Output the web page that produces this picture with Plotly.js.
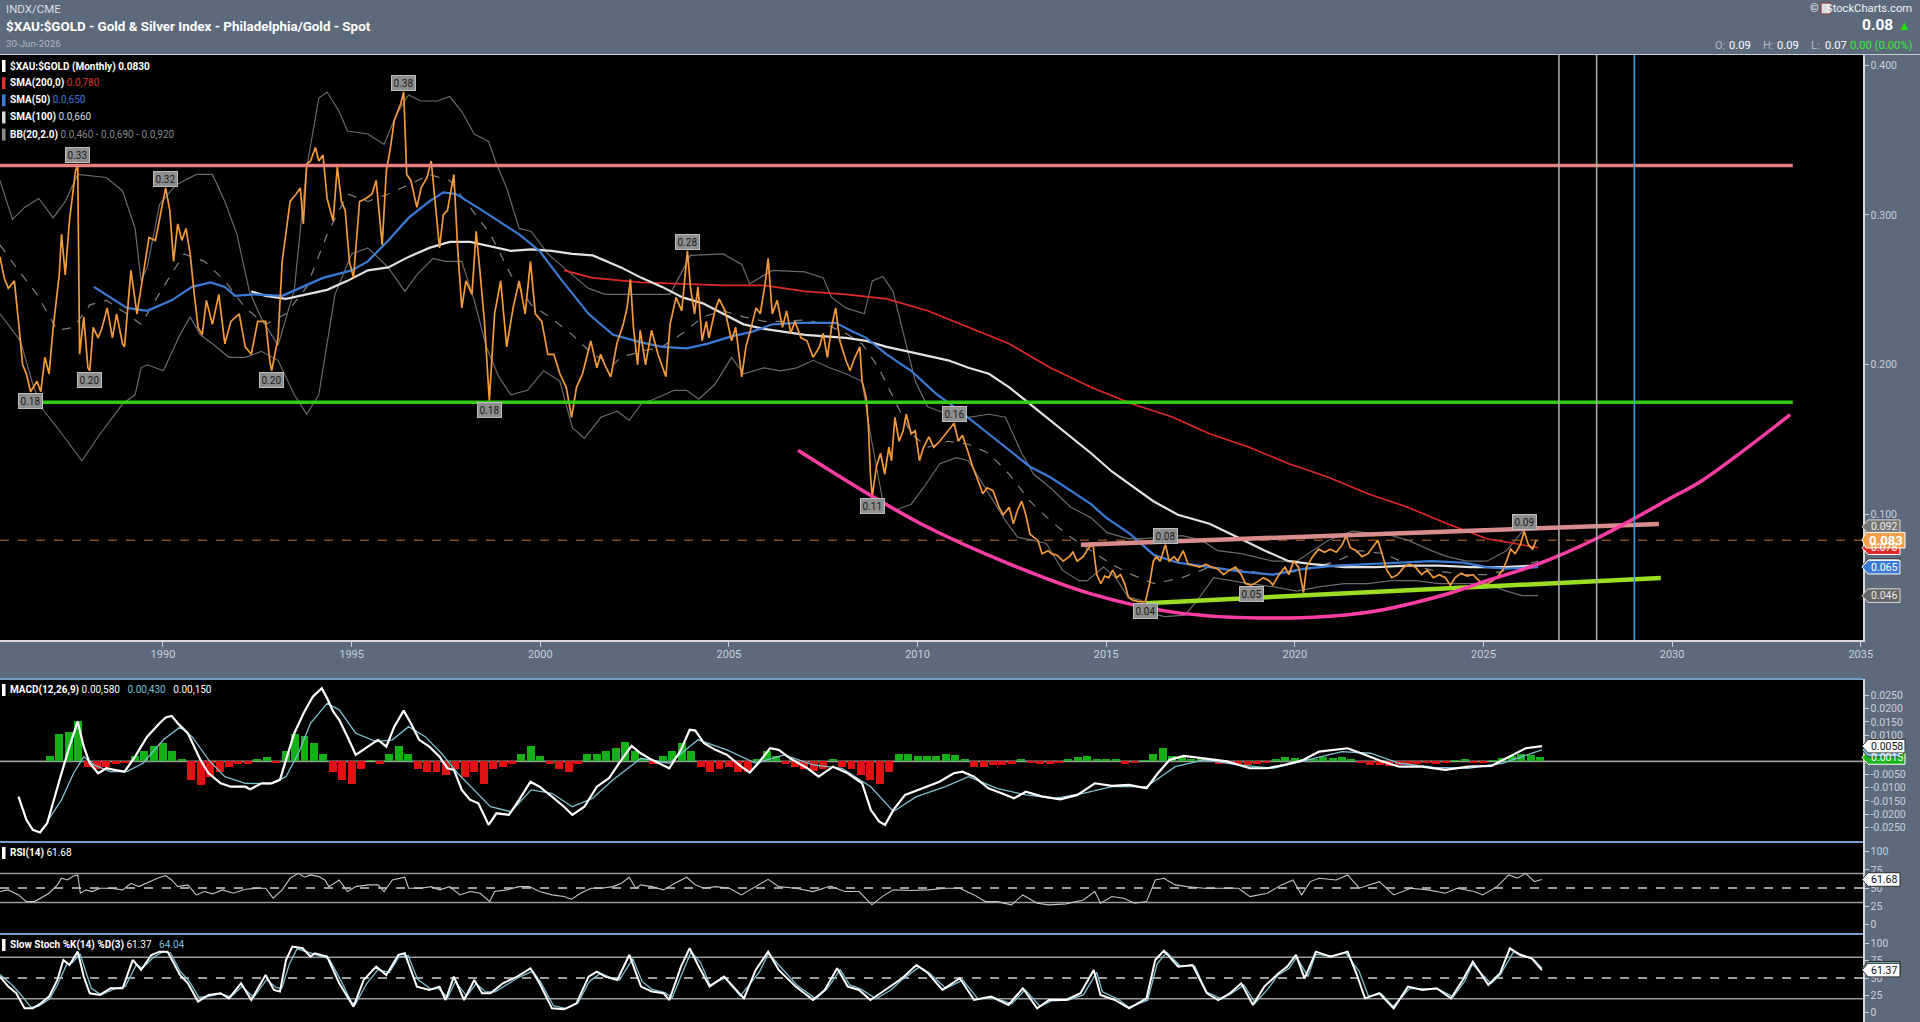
<!DOCTYPE html>
<html><head><meta charset="utf-8">
<script src="https://cdn.plot.ly/plotly-3.0.1.min.js"></script>
<style>html,body{margin:0;padding:0;background:#5c6a7b;overflow:hidden}#chart{width:1920px;height:1022px}</style>
</head><body><div id="chart"></div>
<script>
// ---------------- DATA ----------------
const priceDates = [
1985.68,1985.79,1985.90,1986.06,1986.17,1986.28,1986.38,1986.49,1986.66,1986.76,
1986.87,1986.98,1987.09,1987.25,1987.31,1987.41,1987.52,1987.68,1987.74,1987.79,
1987.90,1988.01,1988.06,1988.15,1988.28,1988.39,1988.52,1988.66,1988.77,1988.93,
1988.98,1989.15,1989.31,1989.42,1989.63,1989.80,1989.91,1990.07,1990.18,1990.28,
1990.39,1990.50,1990.61,1990.72,1990.83,1990.93,1991.04,1991.15,1991.31,1991.48,
1991.64,1991.80,1992.02,1992.18,1992.34,1992.51,1992.72,1992.83,1992.88,1993.05,
1993.16,1993.37,1993.53,1993.64,1993.72,1993.81,1993.91,1994.04,1994.13,1994.24,
1994.35,1994.51,1994.62,1994.73,1994.83,1994.94,1995.05,1995.21,1995.38,1995.54,
1995.65,1995.81,1995.92,1996.03,1996.13,1996.30,1996.38,1996.46,1996.57,1996.73,
1996.84,1997.00,1997.11,1997.22,1997.33,1997.43,1997.54,1997.71,1997.81,1997.92,
1998.03,1998.19,1998.30,1998.41,1998.52,1998.65,1998.79,1998.95,1999.11,1999.28,
1999.44,1999.60,1999.74,1999.87,2000.04,2000.20,2000.36,2000.52,2000.69,2000.83,
2000.96,2001.12,2001.34,2001.50,
2001.60,2001.71,2001.87,2002.03,2002.20,2002.30,2002.39,2002.47,2002.58,2002.65,
2002.79,2002.95,2003.12,2003.33,2003.44,2003.60,2003.75,2003.90,2003.98,2004.09,
2004.18,2004.29,2004.40,2004.47,2004.63,2004.74,2004.90,2005.07,2005.18,2005.34,
2005.45,2005.55,2005.72,2005.83,2005.96,2006.04,2006.15,2006.28,2006.42,2006.53,
2006.64,2006.75,2006.91,2007.07,2007.23,2007.40,2007.50,2007.61,2007.72,2007.83,
2007.94,2008.10,2008.21,2008.34,2008.47,2008.53,2008.64,2008.70,2008.75,2008.80,
2008.91,2009.02,2009.13,2009.24,2009.31,2009.40,2009.51,2009.62,2009.70,2009.83,
2009.94,2010.05,2010.16,2010.30,2010.43,2010.59,2010.75,2010.97,2011.08,2011.19,
2011.35,2011.46,2011.57,2011.73,2011.84,2012.00,2012.16,2012.27,2012.43,2012.54,
2012.65,2012.76,2012.87,2012.98,2013.08,2013.19,2013.30,2013.46,
2013.55,2013.70,2013.86,2014.02,2014.12,2014.23,2014.39,2014.54,2014.65,2014.75,
2014.86,2014.96,2015.07,2015.17,2015.28,2015.38,2015.49,2015.59,2015.70,2015.85,
2016.04,2016.15,2016.25,2016.33,2016.43,2016.57,2016.67,2016.80,2016.90,2017.04,
2017.17,2017.32,2017.48,2017.64,2017.80,2017.95,2018.11,2018.27,2018.43,2018.58,
2018.69,2018.84,2019.00,2019.16,2019.32,2019.42,2019.58,2019.74,2019.84,2019.97,
2020.10,2020.23,2020.31,2020.47,2020.63,2020.79,2020.94,2021.10,2021.26,2021.36,
2021.47,2021.63,2021.78,2021.94,2022.05,2022.20,2022.31,2022.44,2022.57,2022.73,
2022.89,2023.04,2023.20,2023.36,2023.51,2023.67,2023.83,2023.99,2024.12,2024.25,
2024.41,2024.56,2024.72,2024.88,2025.04,2025.19,2025.35,2025.51,2025.61,2025.72,
2025.84,2025.98,2026.08,2026.19,2026.30,2026.40];
const priceValues = [
0.272,0.258,0.251,0.256,0.229,0.200,0.194,0.182,0.189,0.182,
0.205,0.194,0.225,0.260,0.287,0.260,0.296,0.329,0.334,0.207,
0.232,0.198,0.196,0.225,0.218,0.225,0.238,0.218,0.234,0.214,
0.212,0.263,0.234,0.251,0.285,0.283,0.298,0.318,0.303,0.269,
0.294,0.283,0.291,0.274,0.247,0.225,0.220,0.243,0.227,0.247,
0.214,0.229,0.234,0.212,0.207,0.229,0.229,0.203,0.196,0.218,
0.269,0.309,0.314,0.318,0.294,0.334,0.336,0.345,0.336,0.340,
0.311,0.296,0.332,0.309,0.303,0.269,0.258,0.309,0.311,0.314,
0.323,0.280,0.329,0.345,0.363,0.374,0.382,0.327,0.323,0.305,
0.318,0.325,0.336,0.309,0.278,0.300,0.303,0.327,0.278,0.238,
0.256,0.247,0.289,0.260,0.229,0.176,0.234,0.256,0.212,0.238,
0.256,0.234,0.269,0.234,0.229,0.207,0.207,0.194,0.185,0.165,
0.185,0.194,0.216,0.198,
0.207,0.200,0.192,0.214,0.227,0.238,0.257,0.225,0.200,0.223,
0.200,0.223,0.207,0.192,0.227,0.245,0.236,0.276,0.252,0.234,
0.252,0.216,0.229,0.218,0.236,0.244,0.236,0.216,0.225,0.192,
0.212,0.221,0.238,0.234,0.254,0.271,0.234,0.243,0.225,0.236,
0.221,0.229,0.218,0.216,0.205,0.212,0.221,0.205,0.225,0.238,
0.216,0.203,0.196,0.205,0.212,0.189,0.178,0.158,0.127,0.112,
0.132,0.141,0.127,0.145,0.136,0.165,0.149,0.156,0.167,0.154,
0.156,0.136,0.145,0.152,0.145,0.149,0.154,0.161,0.149,0.153,
0.141,0.132,0.125,0.114,0.118,0.116,0.105,0.100,0.105,0.094,
0.103,0.109,0.100,0.087,0.085,0.083,0.074,0.076,
0.074,0.073,0.069,0.072,0.075,0.069,0.072,0.078,0.080,0.060,
0.054,0.059,0.058,0.063,0.058,0.060,0.054,0.045,0.043,0.042,
0.042,0.054,0.069,0.072,0.069,0.080,0.069,0.072,0.069,0.076,
0.067,0.066,0.065,0.067,0.065,0.064,0.060,0.063,0.065,0.060,
0.054,0.053,0.055,0.058,0.056,0.053,0.060,0.065,0.060,0.069,
0.065,0.048,0.065,0.072,0.077,0.075,0.077,0.075,0.080,0.086,
0.078,0.076,0.072,0.074,0.078,0.083,0.074,0.063,0.058,0.060,
0.065,0.067,0.065,0.060,0.063,0.058,0.060,0.058,0.053,0.058,
0.061,0.059,0.060,0.056,0.053,0.055,0.058,0.063,0.069,0.077,
0.074,0.080,0.089,0.080,0.077,0.083];

const sma50Dates = [1988.17,1988.60,1989.04,1989.58,1990.23,1990.77,1991.26,1991.64,1991.91,1992.40,
1993.16,1993.70,1994.24,1995.00,1995.43,1995.97,1996.51,1997.06,1997.43,1997.76,
1998.46,1999.44,1999.98,2000.52,2001.28,2001.93,2002.68,2003.23,2003.88,2004.42,
2005.07,2005.61,2006.15,2006.80,2007.45,2007.83,2008.21,2008.64,2009.18,2009.83,
2010.48,2011.13,2011.78,2012.43,2012.98,2013.52,2014.17,2014.60,2015.00,2015.64,
2016.27,2016.90,2017.74,2018.58,2019.42,2020.26,2021.10,2021.94,2022.78,2023.62,
2024.46,2025.09,2025.61,2026.45];
const sma50Values = [0.252,0.245,0.238,0.236,0.243,0.252,0.255,0.252,0.246,0.247,
0.246,0.252,0.258,0.263,0.269,0.283,0.298,0.309,0.315,0.314,
0.303,0.287,0.276,0.258,0.234,0.220,0.215,0.212,0.211,0.214,
0.219,0.222,0.227,0.228,0.228,0.228,0.223,0.218,0.207,0.196,
0.181,0.169,0.156,0.143,0.132,0.125,0.114,0.107,0.098,0.087,
0.073,0.068,0.065,0.062,0.060,0.064,0.066,0.067,0.068,0.069,
0.068,0.065,0.064,0.065];

const sma100Dates = [1992.34,1992.72,1993.26,1993.81,1994.35,1994.89,1995.43,1995.97,1996.51,1997.06,
1997.60,1998.14,1998.68,1999.22,1999.76,2000.30,2000.85,2001.39,2002.14,2002.68,
2003.23,2003.77,2004.31,2004.85,2005.39,2005.93,2006.48,2007.02,2007.56,2008.10,
2008.64,2009.18,2009.73,2010.27,2010.81,2011.35,2011.89,2012.43,2012.98,2013.52,
2014.06,2014.60,2015.14,2015.68,2016.25,2016.90,2017.74,2018.48,2019.21,2019.84,
2020.47,2021.31,2022.15,2022.99,2023.83,2024.67,2025.51,2026.35];
const sma100Values = [0.249,0.246,0.244,0.247,0.250,0.256,0.263,0.265,0.272,0.278,
0.282,0.282,0.279,0.276,0.277,0.276,0.274,0.273,0.265,0.258,
0.252,0.245,0.241,0.234,0.227,0.224,0.222,0.220,0.219,0.218,
0.216,0.212,0.209,0.206,0.203,0.198,0.194,0.185,0.174,0.163,
0.152,0.141,0.129,0.119,0.109,0.100,0.094,0.085,0.076,0.069,
0.067,0.065,0.065,0.066,0.066,0.065,0.065,0.066];

const sma200Dates = [2000.63,2001.39,2002.68,2003.77,2004.85,2005.93,2007.02,2008.10,2009.18,2010.27,
2011.35,2012.43,2013.52,2014.60,2015.68,2016.77,2017.74,2018.79,2019.84,2020.89,
2021.94,2022.99,2024.04,2025.09,2026.45];
const sma200Values = [0.263,0.258,0.255,0.254,0.253,0.253,0.249,0.247,0.244,0.236,
0.225,0.214,0.198,0.185,0.174,0.165,0.154,0.145,0.134,0.125,
0.114,0.105,0.094,0.084,0.078];

const bbUpperDates = [1985.68,1986.01,1986.33,1986.71,1987.09,1987.41,1987.74,1988.50,1988.93,1989.26,
1989.42,1989.58,1989.91,1990.34,1990.88,1991.31,1991.64,1991.96,1992.29,1992.61,
1993.05,1993.48,1993.80,1994.13,1994.35,1994.67,1994.89,1995.43,1995.86,1996.19,
1996.51,1996.84,1997.27,1997.60,1997.92,1998.25,1998.63,1998.84,1999.11,1999.44,
1999.76,2000.20,2000.85,2001.28,2001.72,2002.47,2003.44,2003.98,2004.85,2005.34,
2005.55,2006.15,2007.02,2007.50,2007.72,2008.10,2008.59,2008.80,2009.08,2009.35,
2009.62,2009.94,2010.27,2010.81,2011.35,2011.89,2012.33,2012.76,2013.08,2013.52,
2014.06,2014.60,2015.03,2015.58,2016.01,2016.55,2017.01,2017.53,2017.95,2018.58,
2019.42,2020.05,2020.47,2020.89,2021.52,2021.94,2022.57,2022.99,2023.62,2024.04,
2024.56,2025.09,2025.61,2026.14,2026.45];
const bbUpperValues = [0.323,0.297,0.305,0.311,0.298,0.309,0.327,0.325,0.316,0.291,
0.256,0.265,0.307,0.320,0.327,0.327,0.309,0.287,0.249,0.231,
0.213,0.250,0.330,0.378,0.382,0.369,0.356,0.354,0.347,0.367,
0.380,0.376,0.376,0.379,0.369,0.354,0.349,0.334,0.318,0.291,
0.289,0.274,0.260,0.251,0.247,0.247,0.247,0.273,0.274,0.267,
0.254,0.263,0.262,0.258,0.245,0.238,0.234,0.256,0.259,0.249,
0.221,0.189,0.172,0.167,0.165,0.167,0.165,0.141,0.127,0.118,
0.105,0.098,0.088,0.084,0.084,0.085,0.086,0.083,0.076,0.074,
0.069,0.069,0.076,0.083,0.089,0.088,0.086,0.083,0.076,0.072,
0.069,0.069,0.076,0.092,0.092];

const bbLowerDates = [1985.68,1986.22,1986.55,1986.76,1987.20,1987.63,1987.85,1988.28,1988.61,1988.93,
1989.26,1989.42,1989.58,1990.01,1990.45,1990.72,1990.99,1991.31,1991.75,1992.18,
1992.61,1993.05,1993.48,1993.81,1994.13,1994.56,1995.00,1995.43,1995.97,1996.41,
1996.73,1997.16,1997.49,1997.92,1998.25,1998.57,1998.90,1999.22,1999.66,2000.09,
2000.52,2000.85,2001.17,2001.61,2002.04,2002.36,2002.68,2003.01,2003.55,2003.88,
2004.20,2004.63,2005.07,2005.39,2005.93,2006.37,2006.80,2007.23,2007.67,2008.10,
2008.53,2008.75,2009.08,2009.40,2009.83,2010.16,2010.59,2011.03,2011.35,2011.57,
2011.89,2012.33,2012.65,2013.08,2013.41,2013.84,2014.28,2014.50,2014.93,2015.25,
2015.58,2015.90,2016.23,2016.55,2017.09,2017.42,2017.85,2018.79,2019.42,2020.05,
2020.68,2021.31,2021.94,2022.57,2023.20,2023.83,2024.46,2025.09,2025.61,2026.03,
2026.45];
const bbLowerValues = [0.234,0.216,0.187,0.172,0.158,0.143,0.136,0.152,0.163,0.174,
0.180,0.198,0.200,0.196,0.220,0.232,0.220,0.214,0.205,0.205,
0.209,0.203,0.180,0.167,0.180,0.247,0.274,0.278,0.265,0.249,
0.260,0.271,0.269,0.269,0.243,0.212,0.192,0.180,0.183,0.196,
0.189,0.158,0.151,0.165,0.169,0.163,0.174,0.177,0.183,0.183,
0.177,0.187,0.205,0.194,0.198,0.196,0.198,0.203,0.198,0.194,
0.189,0.154,0.109,0.103,0.107,0.118,0.134,0.138,0.136,0.127,
0.114,0.096,0.085,0.083,0.081,0.063,0.056,0.056,0.065,0.058,
0.045,0.043,0.034,0.032,0.033,0.043,0.058,0.054,0.052,0.049,
0.052,0.054,0.054,0.056,0.056,0.054,0.054,0.054,0.049,0.046,
0.046];

const bbMidDates = [1985.68,1986.11,1986.66,1987.20,1987.63,1988.06,1988.50,1989.04,1989.42,1990.01,
1990.56,1991.10,1991.64,1992.18,1992.72,1993.26,1993.81,1994.35,1994.89,1995.43,
1995.97,1996.51,1997.06,1997.60,1998.14,1998.68,1999.22,1999.76,2000.30,2000.85,
2001.39,2001.93,2002.14,2002.68,2003.23,2003.77,2004.31,2004.85,2005.39,2005.93,
2006.48,2007.02,2007.56,2008.10,2008.53,2008.97,2009.40,2009.83,2010.27,2010.81,
2011.35,2011.89,2012.43,2012.98,2013.52,2014.06,2014.60,2015.14,2015.68,2016.27,
2017.01,2017.74,2018.58,2019.42,2020.26,2021.10,2021.73,2022.36,2022.99,2023.62,
2024.46,2025.09,2025.61,2026.14,2026.45];
const bbMidValues = [0.280,0.265,0.247,0.223,0.225,0.240,0.243,0.234,0.227,0.252,
0.274,0.269,0.256,0.238,0.227,0.234,0.252,0.287,0.314,0.309,
0.314,0.320,0.327,0.323,0.305,0.287,0.260,0.240,0.231,0.220,
0.207,0.200,0.205,0.209,0.212,0.221,0.232,0.236,0.232,0.229,
0.229,0.230,0.227,0.221,0.214,0.198,0.176,0.154,0.145,0.149,
0.147,0.141,0.127,0.109,0.096,0.085,0.076,0.067,0.060,0.054,
0.058,0.065,0.063,0.060,0.063,0.069,0.076,0.074,0.067,0.063,
0.060,0.060,0.063,0.067,0.069];

// hand-drawn chart annotations (trend lines)
const resistanceX = [1985.68, 2033.2];  const resistanceY = [0.333, 0.333];
const supportX = [1986.38, 2033.2];     const supportY = [0.175, 0.175];
const upperChannelX = [2014.33, 2029.65]; const upperChannelY = [0.080, 0.0938];
const lowerChannelX = [2016.06, 2029.70]; const lowerChannelY = [0.041, 0.0578];
const arcX = [2006.83,2008.75,2010.27,2012.43,2014.60,2016.77,2019.50,2021.94,2024.04,2025.09,2026.45,2027.97,2028.97,2030.00,2030.79,2033.13];
const arcY = [0.143,0.113,0.0916,0.0672,0.0472,0.035,0.031,0.0349,0.0471,0.056,0.0671,0.0838,0.0971,0.1116,0.1227,0.1667];
const markerYears = [2027, 2028, 2029];
const markerColors = ['#a9a9a9', '#a9a9a9', '#3d9fe0'];
const lastClose = 0.083;

// peak / trough labels
const pivotX = [1986.49,1987.74,1988.06,1990.07,1992.88,1996.38,1998.65,2003.90,2008.80,2010.97,2016.04,2016.57,2018.84,2026.08];
const pivotY = [0.182,0.334,0.196,0.318,0.196,0.382,0.176,0.276,0.112,0.161,0.042,0.080,0.053,0.089];
const pivotText = ['0.18','0.33','0.20','0.32','0.20','0.38','0.18','0.28','0.11','0.16','0.04','0.08','0.05','0.09'];
const pivotSide = ['below','above','below','above','below','above','below','above','below','above','below','above','below','above'];

// MACD
const macdDates = [1986.17,1986.38,1986.55,1986.74,1986.93,1987.09,1987.31,1987.52,1987.74,1987.90,
1988.06,1988.28,1988.50,1988.71,1988.98,1989.26,1989.58,1989.91,1990.07,1990.23,
1990.39,1990.66,1990.83,1990.99,1991.21,1991.53,1991.80,1992.18,1992.31,1992.61,
1992.88,1993.10,1993.26,1993.48,1993.75,1993.97,1994.21,1994.35,1994.51,1994.67,
1994.89,1995.11,1995.43,1995.70,1995.92,1996.13,1996.38,1996.57,1996.79,1997.06,
1997.33,1997.54,1997.71,1997.92,1998.14,1998.36,1998.63,1998.84,1999.17,1999.44,
1999.74,1999.98,2000.31,2000.63,2000.85,2001.17,2001.50,2001.82,2002.15,2002.42,
2002.66,2002.96,2003.42,2003.73,2003.96,2004.11,2004.34,2004.64,2004.95,2005.33,
2005.55,2005.78,2006.09,2006.32,2006.62,2007.08,2007.38,2007.76,2008.15,2008.53,
2008.76,2008.98,2009.14,2009.36,2009.67,2010.13,2010.58,2010.96,2011.19,2011.50,
2011.88,2012.26,2012.56,2012.87,2013.33,2013.78,2014.24,2014.70,2015.15,2015.61,
2016.07,2016.37,2016.68,2017.06,2017.59,2018.20,2018.81,2019.27,2019.73,2020.18,
2020.64,2021.10,2021.40,2021.86,2022.32,2022.77,2023.38,2023.99,2024.60,2025.21,
2025.67,2026.12,2026.55];
const macdValues = [-0.0134,-0.0222,-0.0260,-0.0270,-0.0235,-0.0159,-0.0045,0.0056,0.0151,0.0056,
-0.0007,-0.0045,-0.0026,-0.0032,-0.0039,0.0018,0.0094,0.0145,0.0167,0.0173,
0.0145,0.0107,0.0056,0.0006,-0.0045,-0.0083,-0.0096,-0.0096,-0.0106,-0.0083,
-0.0083,-0.0070,0.0006,0.0107,0.0190,0.0246,0.0278,0.0240,0.0190,0.0158,
0.0094,0.0025,0.0056,0.0082,0.0056,0.0132,0.0193,0.0145,0.0082,0.0056,
0.0018,-0.0026,-0.0032,-0.0108,-0.0146,-0.0159,-0.0241,-0.0197,-0.0203,-0.0146,
-0.0077,-0.0096,-0.0134,-0.0172,-0.0203,-0.0172,-0.0096,-0.0064,0.0006,0.0059,
0.0031,0.0006,-0.0026,0.0044,0.0120,0.0117,0.0069,0.0044,0.0025,-0.0020,
-0.0042,-0.0007,0.0050,0.0044,0.0012,-0.0026,-0.0058,-0.0020,-0.0045,-0.0083,
-0.0184,-0.0228,-0.0241,-0.0184,-0.0127,-0.0102,-0.0077,-0.0045,-0.0039,-0.0058,
-0.0102,-0.0123,-0.0140,-0.0115,-0.0134,-0.0144,-0.0127,-0.0083,-0.0093,-0.0089,
-0.0102,-0.0045,0.0006,0.0021,0.0012,0.0000,-0.0026,-0.0026,-0.0013,0.0003,
0.0037,0.0044,0.0050,0.0025,0.0000,-0.0020,-0.0020,-0.0032,-0.0020,-0.0017,
0.0018,0.0050,0.0058];
const signalDates = [1986.93,1987.31,1987.63,1987.90,1988.17,1988.61,1989.04,1989.47,1990.01,1990.45,
1990.77,1991.21,1991.64,1992.18,1992.83,1993.26,1993.59,1993.91,1994.35,1994.67,
1995.11,1995.65,1996.08,1996.51,1996.95,1997.38,1997.81,1998.25,1998.68,1999.22,
1999.76,2000.31,2000.85,2001.39,2001.93,2002.67,2003.42,2004.18,2004.95,2005.71,
2006.47,2007.23,2008.00,2008.76,2009.36,2009.97,2010.74,2011.35,2012.11,2012.87,
2013.63,2014.39,2015.15,2016.07,2016.83,2017.59,2018.50,2019.42,2020.33,2021.25,
2022.01,2022.77,2023.69,2024.60,2025.50,2026.55];
const signalValues = [-0.0229,-0.0146,-0.0045,0.0018,-0.0013,-0.0039,-0.0039,-0.0007,0.0082,0.0130,
0.0094,0.0006,-0.0058,-0.0083,-0.0085,-0.0058,0.0031,0.0145,0.0221,0.0196,
0.0107,0.0075,0.0082,0.0132,0.0094,0.0031,-0.0045,-0.0108,-0.0172,-0.0191,
-0.0108,-0.0121,-0.0172,-0.0140,-0.0070,0.0012,-0.0007,0.0082,0.0044,-0.0007,
0.0025,-0.0013,-0.0026,-0.0096,-0.0190,-0.0134,-0.0096,-0.0058,-0.0102,-0.0127,
-0.0140,-0.0121,-0.0096,-0.0096,-0.0020,0.0006,-0.0013,-0.0026,0.0006,0.0037,
0.0031,-0.0007,-0.0023,-0.0026,-0.0007,0.0044];
const histDates = [
1987.00,1987.25,1987.50,1987.75,1988.00,1988.25,1988.50,1988.75,1989.00,1989.25,1989.50,1989.75,
1990.00,1990.25,1990.50,1990.75,1991.00,1991.25,1991.50,1991.75,1992.00,1992.25,1992.50,1992.75,
1993.00,1993.25,1993.50,1993.75,1994.00,1994.25,1994.50,1994.75,1995.00,1995.25,1995.50,1995.75,
1996.00,1996.25,1996.50,1996.75,1997.00,1997.25,1997.50,1997.75,1998.00,1998.25,1998.50,1998.75,
1999.00,1999.25,1999.50,1999.75,2000.00,2000.25,2000.50,2000.75,2001.00,2001.25,2001.50,2001.75,
2002.00,2002.25,2002.50,2002.75,2003.00,2003.25,2003.50,2003.75,2004.00,2004.25,2004.50,2004.75,
2005.00,2005.25,2005.50,2005.75,2006.00,2006.25,2006.50,2006.75,2007.00,2007.25,2007.50,2007.75,
2008.00,2008.25,2008.50,2008.75,2009.00,2009.25,2009.50,2009.75,2010.00,2010.25,2010.50,2010.75,
2011.00,2011.25,2011.50,2011.75,2012.00,2012.25,2012.50,2012.75,2013.00,2013.25,2013.50,2013.75,
2014.00,2014.25,2014.50,2014.75,2015.00,2015.25,2015.50,2015.75,2016.00,2016.25,2016.50,2016.75,
2017.00,2017.25,2017.50,2017.75,2018.00,2018.25,2018.50,2018.75,2019.00,2019.25,2019.50,2019.75,
2020.00,2020.25,2020.50,2020.75,2021.00,2021.25,2021.50,2021.75,2022.00,2022.25,2022.50,2022.75,
2023.00,2023.25,2023.50,2023.75,2024.00,2024.25,2024.50,2024.75,2025.00,2025.25,2025.50,2025.75,
2026.00,2026.25,2026.50];
const histValues = [
0.0020,0.0105,0.0110,0.0155,-0.0020,-0.0030,-0.0020,-0.0010,-0.0005,0.0020,0.0040,0.0060,
0.0070,0.0040,0.0010,-0.0070,-0.0090,-0.0060,-0.0040,-0.0020,-0.0010,-0.0010,0.0010,0.0015,
-0.0005,0.0040,0.0105,0.0095,0.0070,0.0030,-0.0040,-0.0070,-0.0085,-0.0030,0.0005,-0.0010,
0.0030,0.0060,0.0030,-0.0030,-0.0040,-0.0040,-0.0050,-0.0030,-0.0060,-0.0040,-0.0085,-0.0030,
-0.0020,-0.0010,0.0030,0.0060,0.0020,-0.0010,-0.0030,-0.0040,-0.0010,0.0030,0.0030,0.0040,
0.0050,0.0075,0.0040,0.0010,-0.0010,0.0020,0.0040,0.0070,0.0040,-0.0020,-0.0040,-0.0030,
-0.0020,-0.0040,-0.0040,0.0010,0.0040,0.0020,-0.0010,-0.0020,-0.0030,-0.0035,-0.0030,0.0010,
-0.0020,-0.0030,-0.0050,-0.0070,-0.0085,-0.0040,0.0030,0.0030,0.0020,0.0020,0.0020,0.0030,
0.0025,0.0010,-0.0020,-0.0020,-0.0015,-0.0015,-0.0010,0.0010,-0.0005,-0.0010,-0.0010,-0.0005,
0.0008,0.0015,0.0020,0.0010,0.0008,0.0010,-0.0010,-0.0005,0.0005,0.0030,0.0050,0.0020,
0.0015,0.0010,0.0008,0.0003,-0.0008,-0.0010,-0.0010,-0.0012,-0.0008,-0.0005,0.0010,0.0015,
0.0012,0.0008,0.0010,0.0015,0.0012,0.0015,0.0010,-0.0005,-0.0012,-0.0015,-0.0018,-0.0012,
-0.0008,-0.0008,-0.0005,-0.0008,-0.0005,0.0005,0.0008,-0.0005,-0.0005,0.0005,0.0012,0.0020,
0.0030,0.0025,0.0015];

// RSI(14)
const rsiDates = [1985.68,1985.90,1986.17,1986.38,1986.60,1986.76,1986.98,1987.20,1987.31,1987.47,
1987.63,1987.74,1987.81,1987.96,1988.12,1988.33,1988.61,1988.93,1989.15,1989.36,
1989.63,1989.85,1990.07,1990.23,1990.39,1990.66,1990.88,1991.10,1991.31,1991.58,
1991.86,1992.18,1992.51,1992.72,1992.92,1993.16,1993.37,1993.59,1993.75,1993.91,
1994.13,1994.29,1994.40,1994.67,1994.89,1995.11,1995.43,1995.70,1995.86,1996.08,
1996.41,1996.51,1996.84,1997.11,1997.33,1997.60,1997.87,1998.14,1998.41,1998.66,
1998.79,1999.11,1999.44,1999.71,1999.98,2000.31,2000.63,2000.83,2001.07,2001.34,
2001.61,2001.93,2002.15,2002.36,2002.53,2002.67,
2002.96,2003.27,2003.57,2003.88,2004.11,2004.34,2004.64,2005.02,2005.33,2005.71,
2006.04,2006.32,2006.77,2007.23,2007.69,2008.07,2008.45,2008.79,2009.06,2009.36,
2009.82,2010.28,2010.74,2011.12,2011.50,2011.80,2012.11,2012.49,2012.79,2013.17,
2013.48,2013.94,2014.39,2014.70,2014.85,2015.15,2015.46,2015.76,2016.07,2016.30,
2016.53,2016.83,2017.14,2017.59,2018.05,2018.51,2018.81,2019.27,2019.65,2019.95,
2020.18,2020.41,2020.64,2021.10,2021.40,2021.71,2022.24,2022.62,2023.08,2023.53,
2023.99,2024.30,2024.75,2024.98,2025.36,2025.67,2025.90,2026.12,2026.35,2026.55];
const rsiValues = [45.1,47.4,40.5,31.3,31.3,36,42.8,54.3,63.4,61.1,
66.6,68,42.8,47.4,45.1,49.7,49.7,47.4,56.5,51.9,
58.8,63.4,67.1,61.1,51.9,54.3,40.5,45.1,41.9,47.4,
42.8,48.3,49.7,49.7,36,47.4,63.4,70.2,64.8,68,
65.7,61.1,51.9,61.1,45.1,51.9,54.3,54.3,45.1,61.1,
64.8,49.7,49.7,51.9,47.4,51.9,40.5,45.1,42.8,31.3,
45.1,47.4,51.9,51.9,45.1,40.5,38.2,34.5,42.8,49.7,
49.7,51.9,56.5,64.8,49.7,54.3,
51.9,47.4,56.5,64.8,54.3,49.7,51.9,49.7,40.5,51.9,
62,51.9,49.7,45.1,52.8,45.1,45.1,26.8,38.2,47.4,
46.5,47.4,49.7,49.7,40.5,31.3,31.3,26.8,40.5,29,
26.8,28.1,33.6,45.1,29,38.2,36,29,31.3,61.1,
63.4,54.3,51.9,49.7,49.7,49.7,38.2,42.8,54.3,61.1,
40.5,58.8,63.4,61.1,68,49.7,58.8,40.5,49.7,47.4,
42.8,49.7,45.1,40.5,51.9,68,63.4,70.2,58.8,61.7];

// Slow Stochastic %K(14) %D(3)
const stochKDates = [1985.68,1985.90,1986.11,1986.33,1986.55,1986.76,1986.98,1987.20,1987.36,1987.52,
1987.74,1987.90,1988.06,1988.33,1988.61,1988.93,1989.20,1989.42,1989.69,1989.91,
1990.12,1990.45,1990.66,1990.93,1991.21,1991.53,1991.75,1992.07,1992.34,1992.72,
1992.94,1993.10,1993.26,1993.43,1993.70,1993.91,1994.02,1994.35,1994.67,1995.05,
1995.32,1995.65,1995.92,1996.24,1996.41,1996.73,1997.06,1997.33,1997.49,1997.71,
1997.98,1998.25,1998.46,1998.68,1999.01,1999.39,1999.74,1999.98,2000.31,2000.63,
2000.96,2001.28,2001.50,2001.72,2002.04,2002.36,2002.67,
2002.96,2003.27,2003.42,2003.73,2003.96,2004.18,2004.49,2004.87,2005.40,2005.71,
2006.04,2006.32,2006.77,2007.23,2007.54,2007.87,2008.15,2008.45,2008.75,2009.21,
2009.59,2009.97,2010.28,2010.66,2011.12,2011.50,2011.95,2012.41,2012.79,2013.17,
2013.48,2013.94,2014.32,2014.67,2014.85,2015.23,2015.61,2016.07,2016.30,2016.53,
2016.91,2017.29,2017.67,2017.97,2018.28,2018.58,2018.89,2019.19,2019.57,2019.80,
2020.03,2020.26,2020.56,2020.94,2021.40,2021.63,2021.86,2022.24,2022.62,2023.00,
2023.38,2023.76,2024.14,2024.45,2024.72,2025.13,2025.44,2025.70,2025.97,2026.28,
2026.55];
const stochKValues = [52,37.6,28,6.3,6.3,13.5,23.2,47.2,76,68.8,
88,52,28,25.6,35.2,35.2,76,61.6,83.2,88,
88,54.4,42.4,15.9,25.6,28,20.7,42.4,18.3,54.4,
32.8,30.4,76,95.2,92.8,80.8,85.6,80.8,42.4,8.7,
47.2,66.4,54.4,83.2,85.6,37.6,32.8,37.6,18.3,52,
18.3,47.2,28,28,42.4,52,64,42.4,6.3,4.9,
13.5,52,59.2,52,47.2,83.2,37.6,
30.4,28,18.3,66.4,92.8,68.8,37.6,52,20.7,61.6,
88,61.6,37.6,18.3,32.8,64,37.6,32.8,18.3,35.2,
49.6,68.8,56.8,32.8,49.6,18.3,23.2,11.1,35.2,6.3,
18.3,18.3,28,61.6,25.6,18.3,6.3,20.7,76,89.4,
66.4,68.8,28,18.3,28,42.4,11.1,37.6,56.8,66.4,
83.2,49.6,88,80.8,88,56.8,20.7,28,6.3,37.6,
32.8,35.2,20.7,47.2,73.6,40,56.8,92.8,83.2,78.4,
61.4];
const stochDDates = [1985.68,1986.00,1986.20,1986.50,1986.70,1987.00,1987.20,1987.45,1987.60,1987.80,
1987.95,1988.10,1988.35,1988.70,1989.00,1989.30,1989.45,1989.75,1990.00,1990.20,
1990.45,1990.70,1990.95,1991.25,1991.50,1991.80,1992.10,1992.40,1992.75,1993.00,
1993.15,1993.35,1993.55,1993.80,1994.10,1994.40,1994.70,1995.00,1995.10,1995.40,
1995.70,1996.00,1996.25,1996.50,1996.75,1997.10,1997.30,1997.55,1997.75,1998.05,
1998.30,1998.55,1998.80,1999.10,1999.40,1999.80,2000.00,2000.35,2000.70,2001.00,
2001.30,2001.60,2001.90,2002.10,2002.45,2002.70,2002.95,2003.30,2003.50,2003.80,
2004.00,2004.25,2004.50,2004.90,2005.30,2005.80,2006.05,2006.40,2006.80,2007.30,
2007.60,2007.95,2008.20,2008.50,2008.90,2009.30,2009.60,2010.05,2010.30,2010.75,
2011.20,2011.60,2012.00,2012.50,2012.85,2013.25,2013.55,2014.00,2014.40,2014.75,
2014.90,2015.30,2015.60,2016.10,2016.35,2016.60,2016.95,2017.35,2017.65,2018.05,
2018.30,2018.65,2018.95,2019.30,2019.55,2019.85,2020.05,2020.35,2020.55,2021.00,
2021.35,2021.70,2021.95,2022.30,2022.60,2023.05,2023.45,2023.80,2024.20,2024.50,
2024.70,2025.20,2025.45,2025.80,2026.00,2026.35,2026.55];
const stochDValues = [55,40,28,8,9,20,40,70,72,85,
60,35,26,34,38,70,64,80,88,86,
60,45,22,24,27,23,38,22,48,36,
35,70,92,88,83,78,48,15,12,42,
62,58,80,82,48,34,35,22,45,24,
42,30,30,40,50,60,45,10,6,14,
45,57,50,47,78,45,34,29,22,62,
88,72,40,50,24,58,85,64,40,20,
34,62,40,34,20,33,48,66,58,35,
47,20,22,13,33,9,17,18,26,58,
30,20,8,18,70,87,68,67,30,20,
27,40,14,35,54,64,80,52,84,82,
86,60,24,27,9,35,34,34,23,45,
70,42,55,88,84,76,64];

// axis ticks / labels
const xTickYears = [1990,1995,2000,2005,2010,2015,2020,2025,2030,2035];
const priceTicks = [0.1,0.2,0.3,0.4];
const priceTickText = ['0.100','0.200','0.300','0.400'];
const macdTicks = [0.025,0.02,0.015,0.01,-0.005,-0.01,-0.015,-0.02,-0.025];
const macdTickText = ['0.0250','0.0200','0.0150','0.0100','-0.0050','-0.0100','-0.0150','-0.0200','-0.0250'];
const oscTicks = [0,25,50,75,100];

const legendLabels = ['$XAU:$GOLD (Monthly) 0.0830','SMA(200,0)','SMA(50)','SMA(100)','BB(20,2.0)'];
const legendValues = ['','0.0,780','0.0,650','0.0,660','0.0,460 - 0.0,690 - 0.0,920'];
const legendColors = ['#ffffff','#e03131','#3b7bd6','#d8d8d8','#8a8a8a'];

// right-axis value tags
const tagValues = [0.092, 0.078, 0.066, 0.065, 0.046, 0.083, 0.0015, 0.0043, 0.0058, 61.68, 64.04, 61.37];
const tagPanels = ['y','y','y','y','y','y','y2','y2','y2','y3','y4','y4'];
const tagText = ['0.092','0.078','','0.065','0.046','0.083','0.0015','','0.0058','61.68','','61.37'];
const tagFill = ['#767676','#e02a2a','#ffffff','#3b7bd6','#666666','#f2a04c','#18b818','#7fc3d6','#ffffff','#ffffff','#7fc3d6','#ffffff'];
const tagInk = ['#eeeeee','#ffffff','#111111','#ffffff','#e8e8e8','#ffffff','#ffffff','#111111','#111111','#111111','#111111','#111111'];
const tagEdge = ['#d6d6d6','#ffffff','#222222','#ffffff','#d6d6d6','#ffffff','#ffffff','#2a2a2a','#2a2a2a','#2a2a2a','#2a2a2a','#2a2a2a'];

// ---------------- LAYOUT HELPERS ----------------
const W = 1920, H = 1022, MR = 57, MT = 55;
const PW = W - MR, PH = H - MT;
const px = x => x / PW;
const py = y => (H - y) / PH;
const FONT = "Roboto, 'Noto Sans', Arial, sans-serif";
const mainBottom = py(640), macdTop = py(679), macdBottom = py(842), rsiBottom = py(934);

const yRanges = {y: [0.0164, 0.4067], y2: [-0.0306, 0.0313], y3: [-13.3, 113.3], y4: [-13.4, 113.4]};
const yDomains = {y: [mainBottom, 1], y2: [macdBottom, macdTop], y3: [rsiBottom, macdBottom], y4: [0, rsiBottom]};
const valToPaper = (v, ax) => {
  const r = yRanges[ax], d = yDomains[ax];
  return d[0] + (v - r[0]) / (r[1] - r[0]) * (d[1] - d[0]);
};

const line = (x, y, color, width, extra) => Object.assign({
  type: 'scatter', mode: 'lines', x, y, line: {color, width}, hoverinfo: 'skip',
  xaxis: 'x', yaxis: 'y', showlegend: false}, extra || {});

const traces = [
  line(bbUpperDates, bbUpperValues, '#6a6a6a', 1.2),
  line(bbLowerDates, bbLowerValues, '#6a6a6a', 1.2),
  line(bbMidDates, bbMidValues, '#808080', 1.2, {line: {color: '#808080', width: 1.2, dash: 'dash'}}),
  line(sma200Dates, sma200Values, '#e02a2a', 1.6),
  line(sma100Dates, sma100Values, '#e2e2e2', 2.2),
  line(sma50Dates, sma50Values, '#3b7bd6', 2.2),
  line(priceDates, priceValues, '#f39a3a', 1.7),
  line(resistanceX, resistanceY, '#e97e7e', 3.5),
  line(supportX, supportY, '#33cc11', 3.5),
  line(upperChannelX, upperChannelY, '#d98c8c', 4.5),
  line(lowerChannelX, lowerChannelY, '#9add22', 4.5),
  line(arcX, arcY, '#ff3ea5', 3.5, {line: {color: '#ff3ea5', width: 3.5, shape: 'spline', smoothing: 1}}),
  {type: 'bar', x: histDates, y: histValues, width: 0.21, xaxis: 'x2', yaxis: 'y2', hoverinfo: 'skip', showlegend: false,
   marker: {color: histValues.map(v => v >= 0 ? '#15b015' : '#e01212'), line: {width: 0}}},
  line(signalDates, signalValues, '#7fbfcf', 1.3, {xaxis: 'x2', yaxis: 'y2'}),
  line(macdDates, macdValues, '#ffffff', 2.2, {xaxis: 'x2', yaxis: 'y2'}),
  line(rsiDates, rsiValues, '#c4c4c4', 1.1, {xaxis: 'x3', yaxis: 'y3'}),
  line(stochDDates, stochDValues, '#7fbfcf', 1.3, {xaxis: 'x4', yaxis: 'y4'}),
  line(stochKDates, stochKValues, '#ffffff', 2, {xaxis: 'x4', yaxis: 'y4'})
];

const shapes = [];
markerYears.forEach((yr, i) => shapes.push({type: 'line', xref: 'x', yref: 'paper', x0: yr, x1: yr, y0: mainBottom, y1: 1,
  line: {color: markerColors[i], width: 1.6}, layer: 'above'}));
shapes.push({type: 'line', xref: 'paper', yref: 'y', x0: 0, x1: 1, y0: lastClose, y1: lastClose, line: {color: '#c9712c', width: 1, dash: 'dash'}, layer: 'below'});
shapes.push({type: 'line', xref: 'paper', yref: 'y2', x0: 0, x1: 1, y0: 0, y1: 0, line: {color: '#9a9a9a', width: 1.6}, layer: 'below'});
[[70, 'solid'], [30, 'solid'], [50, 'dash']].forEach(([v, d]) => shapes.push({type: 'line', xref: 'paper', yref: 'y3', x0: 0, x1: 1, y0: v, y1: v,
  line: {color: d === 'dash' ? '#d0d0d0' : '#9a9a9a', width: 1.6, dash: d}, layer: 'below'}));
[[80, 'solid'], [20, 'solid'], [50, 'dash']].forEach(([v, d]) => shapes.push({type: 'line', xref: 'paper', yref: 'y4', x0: 0, x1: 1, y0: v, y1: v,
  line: {color: d === 'dash' ? '#d0d0d0' : '#9a9a9a', width: 1.6, dash: d}, layer: 'below'}));
[macdTop, macdBottom, rsiBottom].forEach(y => shapes.push({type: 'line', xref: 'paper', yref: 'paper', x0: 0, x1: 1, y0: y, y1: y,
  line: {color: '#6f9fcc', width: 2}}));
shapes.push({type: 'line', xref: 'paper', yref: 'paper', x0: 0, x1: W / PW, y0: py(54.5), y1: py(54.5), line: {color: '#c5cdd6', width: 1}});
legendColors.forEach((c, i) => shapes.push({type: 'rect', xref: 'paper', yref: 'paper', x0: px(2), x1: px(5.5),
  y0: py(66 + 17.15 * i + 6), y1: py(66 + 17.15 * i - 6), fillcolor: c, line: {width: 0}}));
[690, 853, 945].forEach(y => shapes.push({type: 'rect', xref: 'paper', yref: 'paper', x0: px(2), x1: px(5.5),
  y0: py(y + 6), y1: py(y - 6), fillcolor: '#ffffff', line: {width: 0}}));
shapes.push({type: 'rect', xref: 'paper', yref: 'paper', x0: px(1821), x1: px(1831), y0: py(14), y1: py(3), fillcolor: '#d9dde2', line: {color: '#8f2a2a', width: 1}});

const ann = [];
const txt = (text, x, y, opts) => ann.push(Object.assign({text, x: px(x), y: py(y), xref: 'paper', yref: 'paper',
  xanchor: 'left', yanchor: 'middle', showarrow: false, font: {family: FONT, size: 10, color: '#ffffff'}}, opts || {}));

// header
txt('INDX/CME', 4, 9.5, {font: {family: FONT, size: 11.5, color: '#d6dce2'}});
txt('<b>$XAU:$GOLD - Gold &amp; Silver Index - Philadelphia/Gold - Spot</b>', 4, 27, {font: {family: FONT, size: 13.4, color: '#ffffff'}});
txt('30-Jun-2026', 4, 43.5, {font: {family: FONT, size: 9.8, color: '#aeb8c2'}});
txt('©', 1808, 9, {font: {family: FONT, size: 11, color: '#eef2f5'}});
txt('StockCharts.com', 1914, 9, {xanchor: 'right', font: {family: FONT, size: 11.2, color: '#eef2f5'}});
txt('<b>0.08</b>', 1895, 25.5, {xanchor: 'right', font: {family: FONT, size: 15.5, color: '#ffffff'}});
txt('▲', 1913, 25.5, {xanchor: 'right', font: {family: FONT, size: 13, color: '#22dd00'}});
const ohlcLabels = ['O:', 'H:', 'L:'];
const ohlcValues = ['0.09', '0.09', '0.07'];
const ohlcX = [1713, 1761, 1809];
ohlcLabels.forEach((l, i) => {
  txt(l, ohlcX[i], 45.5, {font: {family: FONT, size: 11, color: '#b4bec8'}});
  txt(ohlcValues[i], ohlcX[i] + 14, 45.5, {font: {family: FONT, size: 11.2, color: '#ffffff'}});
});
txt('0.00 (0.00%)', 1914, 45.5, {xanchor: 'right', font: {family: FONT, size: 11.2, color: '#33ee33'}});

// legend rows
legendLabels.forEach((lab, i) => {
  const val = legendValues[i] ? ' <span style="color:' + legendColors[i] + '">' + legendValues[i] + '</span>' : '';
  txt('<b>' + lab + '</b>' + val, 8, 66 + 17.15 * i, {font: {family: FONT, size: 10, color: '#ffffff'}});
});
txt('<b>MACD(12,26,9)</b> 0.00,580   <span style="color:#7fc3d6">0.00,430</span>   0.00,150', 8, 690, {font: {family: FONT, size: 10, color: '#ffffff'}});
txt('<b>RSI(14)</b> 61.68', 8, 853, {font: {family: FONT, size: 10, color: '#ffffff'}});
txt('<b>Slow Stoch %K(14) %D(3)</b> 61.37   <span style="color:#7fc3d6">64.04</span>', 8, 945, {font: {family: FONT, size: 10, color: '#ffffff'}});

// pivot labels
pivotX.forEach((x, i) => ann.push({x, y: pivotY[i], xref: 'x', yref: 'y', text: pivotText[i], showarrow: false,
  yanchor: pivotSide[i] === 'above' ? 'bottom' : 'top', yshift: pivotSide[i] === 'above' ? 1 : -1,
  bgcolor: '#8e8e8e', bordercolor: '#bdbdbd', borderwidth: 1, borderpad: 1.5,
  font: {family: FONT, size: 10, color: '#1a1a1a'}}));

// right-axis value tags (arrow-shaped boxes)
tagValues.forEach((v, i) => {
  const big = tagText[i] === '0.083';
  const ax = tagPanels[i];
  const yc = valToPaper(v, ax);
  const hh = (big ? 7.8 : 6.8) / PH;
  const x0 = px(big ? 1866 : 1868), x1 = px(big ? 1905 : (tagText[i].length > 5 ? 1905 : 1900)), tip = px(1862);
  shapes.push({type: 'path', xref: 'paper', yref: 'paper',
    path: 'M' + tip + ',' + yc + ' L' + x0 + ',' + (yc + hh) + ' L' + x1 + ',' + (yc + hh) + ' L' + x1 + ',' + (yc - hh) + ' L' + x0 + ',' + (yc - hh) + ' Z',
    fillcolor: tagFill[i], line: {color: tagEdge[i], width: 1}});
  if (tagText[i]) ann.push({x: (x0 + x1) / 2, xref: 'paper', y: yc, yref: 'paper', xanchor: 'center', yanchor: 'middle',
    text: big ? '<b>' + tagText[i] + '</b>' : tagText[i], showarrow: false,
    font: {family: FONT, size: big ? 13 : 10.5, color: tagInk[i]}});
});

const axisFont = {family: FONT, size: 10.5, color: '#c9d1d9'};
const xBase = {range: [1985.68, 2035.06], showgrid: false, zeroline: false, fixedrange: true};
const yBase = {side: 'right', showgrid: false, zeroline: false, showline: true, linecolor: '#d9d9d9', linewidth: 1.5,
  ticks: 'outside', ticklen: 4, tickcolor: '#c9d1d9', tickfont: axisFont, fixedrange: true};

const layout = {
  width: W, height: H, margin: {l: 0, r: MR, t: MT, b: 0, pad: 0},
  paper_bgcolor: '#5c6a7b', plot_bgcolor: '#000000', showlegend: false, hovermode: false,
  bargap: 0,
  xaxis: Object.assign({}, xBase, {anchor: 'y', domain: [0, 1], tickvals: xTickYears, ticktext: xTickYears.map(String),
    ticks: 'outside', ticklen: 5, tickcolor: '#c9d1d9', tickfont: {family: FONT, size: 11, color: '#c9d1d9'},
    ticklabelstandoff: -2, showline: true, linecolor: '#d9d9d9', linewidth: 1.5}),
  xaxis2: Object.assign({}, xBase, {anchor: 'y2', matches: 'x', showticklabels: false, ticks: ''}),
  xaxis3: Object.assign({}, xBase, {anchor: 'y3', matches: 'x', showticklabels: false, ticks: ''}),
  xaxis4: Object.assign({}, xBase, {anchor: 'y4', matches: 'x', showticklabels: false, ticks: ''}),
  yaxis: Object.assign({}, yBase, {anchor: 'x', domain: yDomains.y, range: yRanges.y, tickvals: priceTicks, ticktext: priceTickText}),
  yaxis2: Object.assign({}, yBase, {anchor: 'x2', domain: yDomains.y2, range: yRanges.y2, tickvals: macdTicks, ticktext: macdTickText}),
  yaxis3: Object.assign({}, yBase, {anchor: 'x3', domain: yDomains.y3, range: yRanges.y3, tickvals: oscTicks, ticktext: oscTicks.map(String)}),
  yaxis4: Object.assign({}, yBase, {anchor: 'x4', domain: yDomains.y4, range: yRanges.y4, tickvals: oscTicks, ticktext: oscTicks.map(String)}),
  shapes, annotations: ann,
  font: {family: FONT, color: '#ffffff'}
};

Plotly.newPlot('chart', traces, layout, {staticPlot: true, displayModeBar: false});
</script>
</body></html>
